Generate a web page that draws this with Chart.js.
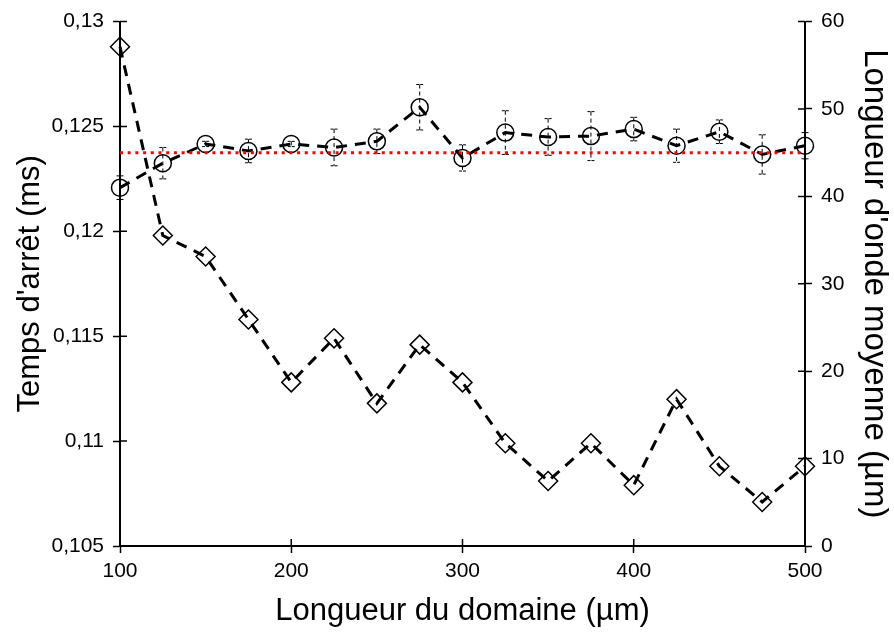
<!DOCTYPE html>
<html>
<head>
<meta charset="utf-8">
<script src="https://cdn.jsdelivr.net/npm/chart.js@4"></script>
<style>
  html, body { margin: 0; padding: 0; background: #fff; }
  #wrap { width: 894px; height: 635px; }
</style>
</head>
<body>
<div id="wrap"><canvas id="chart" width="894" height="635"></canvas></div>
<script>
// domain length (µm)
const domainLength = [100, 125, 150, 175, 200, 225, 250, 275, 300, 325, 350, 375, 400, 425, 450, 475, 500];

// stopping time (ms), diamonds, left axis
const stopTime = [0.1288, 0.1198, 0.1188, 0.1158, 0.1128, 0.1149, 0.1118, 0.1146, 0.1128,
  0.1099, 0.1081, 0.1099, 0.1079, 0.1120, 0.1088, 0.1071, 0.1088];

// mean wavelength (µm), circles, right axis, with error bars
const waveLength = [41.0, 43.8, 46.0, 45.2, 46.0, 45.6, 46.3, 50.2, 44.4,
  47.3, 46.8, 46.9, 47.7, 45.8, 47.4, 44.8, 45.8];
const waveError = [1.35, 1.8, 0.3, 1.35, 0.3, 2.1, 1.4, 2.6, 1.5,
  2.5, 2.1, 2.8, 1.35, 1.9, 1.35, 2.25, 1.5];

// reference level (red dotted)
const refX = [100, 500];
const refLevel = [45, 45];

function toPoints(xs, ys) {
  return xs.map(function(x, i) {
    return { x: x, y: ys[i] };
  });
}

const font = "'Liberation Sans', Arial, sans-serif";

// error bars for the circle series
const errorBars = {
  id: "errorBars",
  beforeDatasetsDraw: function(chart) {
    const ctx = chart.ctx;
    const xs = chart.scales.x;
    const ys = chart.scales.yRight;
    ctx.save();
    ctx.strokeStyle = "#000";
    ctx.lineWidth = 1;
    domainLength.forEach(function(d, i) {
      const x = xs.getPixelForValue(d);
      const yTop = ys.getPixelForValue(waveLength[i] + waveError[i]);
      const yBot = ys.getPixelForValue(waveLength[i] - waveError[i]);
      ctx.setLineDash([4, 3]);
      ctx.beginPath();
      ctx.moveTo(x, yTop);
      ctx.lineTo(x, yBot);
      ctx.stroke();
      ctx.setLineDash([3, 1]);
      ctx.beginPath();
      ctx.moveTo(x - 3.5, yTop);
      ctx.lineTo(x + 3.5, yTop);
      ctx.moveTo(x - 3.5, yBot);
      ctx.lineTo(x + 3.5, yBot);
      ctx.stroke();
    });
    ctx.restore();
  }
};

// ticks that cross into the plot area
const innerTicks = {
  id: "innerTicks",
  afterDraw: function(chart) {
    const ctx = chart.ctx;
    const area = chart.chartArea;
    ctx.save();
    ctx.strokeStyle = "#000";
    ctx.lineWidth = 1.5;
    ctx.beginPath();
    chart.scales.x.ticks.forEach(function(t) {
      const x = chart.scales.x.getPixelForValue(t.value);
      ctx.moveTo(x, area.bottom);
      ctx.lineTo(x, area.bottom - 7);
    });
    chart.scales.yLeft.ticks.forEach(function(t) {
      const y = chart.scales.yLeft.getPixelForValue(t.value);
      ctx.moveTo(area.left, y);
      ctx.lineTo(area.left + 7, y);
    });
    chart.scales.yRight.ticks.forEach(function(t) {
      const y = chart.scales.yRight.getPixelForValue(t.value);
      ctx.moveTo(area.right, y);
      ctx.lineTo(area.right - 7, y);
    });
    ctx.stroke();
    ctx.restore();
  }
};

const axisGrid = {
  drawOnChartArea: false,
  drawTicks: true,
  tickLength: 7,
  tickWidth: 1.5,
  tickColor: "#000"
};

const axisBorder = { display: true, color: "#000", width: 2 };

new Chart(document.getElementById("chart"), {
  type: "line",
  data: {
    datasets: [
      {
        label: "Temps d'arrêt",
        data: toPoints(domainLength, stopTime),
        yAxisID: "yLeft",
        borderColor: "#000",
        borderWidth: 3,
        borderDash: [11, 8],
        pointStyle: "rectRot",
        pointRadius: 9.5,
        pointBorderWidth: 1.5,
        pointBorderColor: "#000",
        pointBackgroundColor: "rgba(0,0,0,0)",
        tension: 0,
        clip: false,
        order: 2
      },
      {
        label: "Longueur d'onde moyenne",
        data: toPoints(domainLength, waveLength),
        yAxisID: "yRight",
        borderColor: "#000",
        borderWidth: 3,
        borderDash: [11, 8],
        pointStyle: "circle",
        pointRadius: 8.5,
        pointBorderWidth: 1.5,
        pointBorderColor: "#000",
        pointBackgroundColor: "rgba(0,0,0,0)",
        tension: 0,
        clip: false,
        order: 1
      },
      {
        label: "Référence",
        data: toPoints(refX, refLevel),
        yAxisID: "yRight",
        borderColor: "#ff0000",
        borderWidth: 3,
        borderDash: [3, 4.7],
        pointRadius: 0,
        clip: false,
        order: 0
      }
    ]
  },
  options: {
    responsive: false,
    animation: false,
    devicePixelRatio: 1,
    layout: {
      padding: { top: 14, left: 0, right: 0, bottom: 0 }
    },
    plugins: {
      legend: { display: false },
      tooltip: { enabled: false }
    },
    scales: {
      x: {
        type: "linear",
        min: 100,
        max: 500,
        grid: axisGrid,
        border: axisBorder,
        ticks: {
          stepSize: 100,
          color: "#000",
          padding: 6,
          maxRotation: 0,
          font: { family: font, size: 21 }
        },
        title: {
          display: true,
          text: "Longueur du domaine (µm)",
          color: "#000",
          padding: { top: 0, bottom: 5 },
          font: { family: font, size: 31 }
        },
        afterFit: function(scale) {
          scale.height = 89;
        }
      },
      yLeft: {
        type: "linear",
        position: "left",
        min: 0.105,
        max: 0.13,
        grid: axisGrid,
        border: axisBorder,
        ticks: {
          stepSize: 0.005,
          color: "#000",
          padding: 9,
          font: { family: font, size: 21 },
          callback: function(v) {
            return String(Number(v.toFixed(3))).replace(".", ",");
          }
        },
        title: {
          display: true,
          text: "Temps d'arrêt (ms)",
          color: "#000",
          padding: { top: 12, bottom: 0 },
          font: { family: font, size: 31 }
        },
        afterFit: function(scale) {
          scale.width = 120;
        }
      },
      yRight: {
        type: "linear",
        position: "right",
        min: 0,
        max: 60,
        grid: axisGrid,
        border: axisBorder,
        ticks: {
          stepSize: 10,
          color: "#000",
          padding: 9,
          font: { family: font, size: 21 }
        },
        title: {
          display: true,
          text: "Longueur d'onde moyenne (µm)",
          color: "#000",
          padding: { top: 0, bottom: 0 },
          font: { family: font, size: 33 }
        },
        afterFit: function(scale) {
          scale.width = 89;
        }
      }
    }
  },
  plugins: [errorBars, innerTicks]
});
</script>
</body>
</html>
